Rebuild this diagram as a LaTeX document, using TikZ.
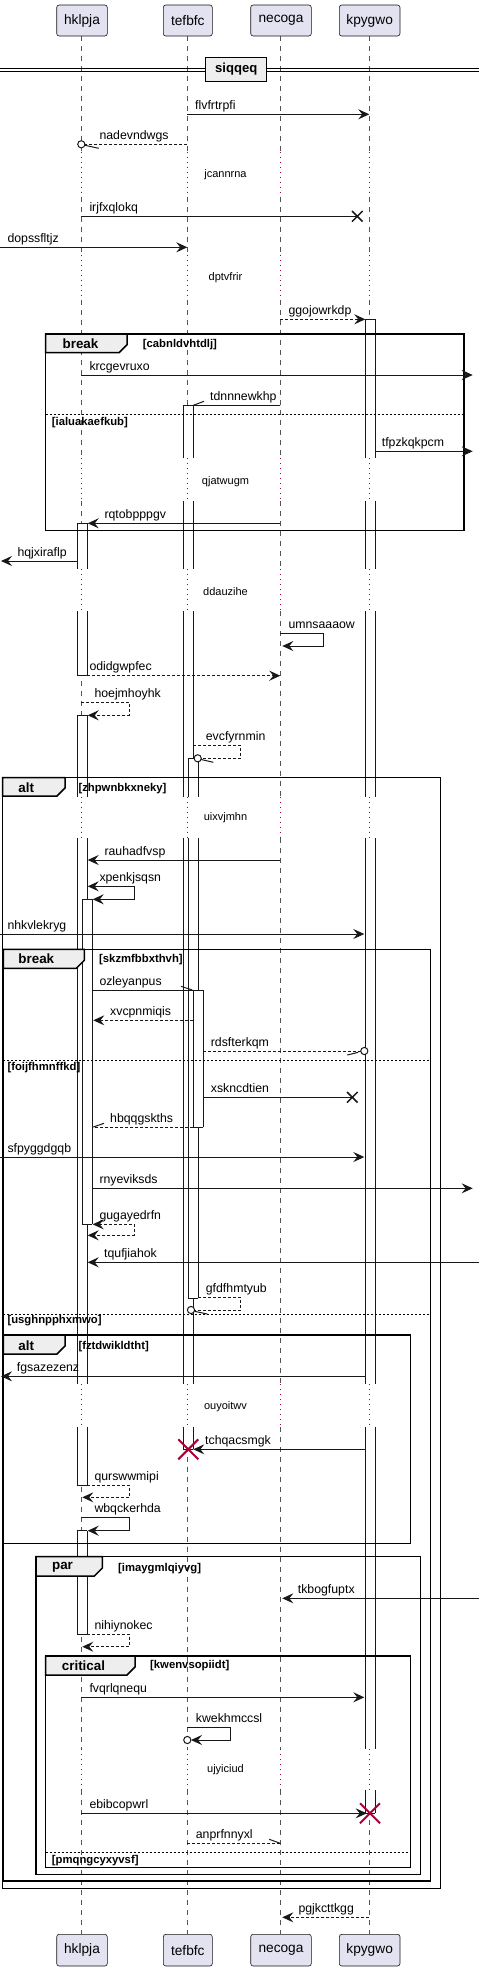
\documentclass[tikz,border=0pt]{standalone}
\usepackage{fontspec}
\setmainfont{Liberation Sans}
\usetikzlibrary{arrows.meta}
\definecolor{partfill}{HTML}{E2E2F0}
\definecolor{ink}{HTML}{181818}
\definecolor{lifegrey}{HTML}{555555}
\definecolor{delayred}{HTML}{A80036}
\definecolor{tabfill}{HTML}{EEEEEE}
\tikzset{
  partbox/.style={draw=ink, fill=partfill, rounded corners=2.5pt, line width=0.6pt, font=\fontsize{13.7}{16}\selectfont, inner sep=0pt},
  lifeline/.style={draw=lifegrey, line width=0.7pt, dash pattern=on 5pt off 5pt},
  delayline/.style={draw=delayred, line width=1pt, dash pattern=on 1pt off 4pt},
  actside/.style={draw=ink, line width=1pt},
  grpframe/.style={draw=black, line width=1.5pt},
  grptab/.style={draw=black, line width=1.5pt, fill=tabfill},
  elseline/.style={draw=black, line width=0.8pt, dash pattern=on 2pt off 2pt},
  msgP/.style={draw=ink, line width=1pt},
  msgPD/.style={msgP, dash pattern=on 3pt off 2pt},
  myhead/.style={-{Stealth[length=11pt,width=10pt,inset=4pt]}},
  bihead/.style={{Stealth[length=11pt,width=10pt,inset=4pt]}-{Stealth[length=11pt,width=10pt,inset=4pt]}},
  msgA/.style={msgP, myhead},
  msgAD/.style={msgPD, myhead},
  msgB/.style={msgP, bihead},
  msgBD/.style={msgPD, bihead},
  lbl/.style={anchor=base west, font=\fontsize{12.3}{14}\selectfont, inner sep=0pt},
  dlbl/.style={font=\fontsize{11}{13}\selectfont, inner sep=0pt},
  tabtxt/.style={font=\bfseries\fontsize{13.4}{15}\selectfont, inner sep=0pt},
  condtxt/.style={anchor=west, font=\bfseries\fontsize{11.3}{13}\selectfont, inner sep=0pt},
  redx/.style={draw=delayred, line width=2pt},
  blackx/.style={draw=ink, line width=1.5pt},
  opencirc/.style={draw=ink, line width=1pt, fill=white},
}
% horizontal message: name, style, x1, x2, y, label x, text
\newcommand\hmsg[7]{%
  \coordinate (#1a) at (#3,#5);
  \coordinate (#1b) at (#4,#5);
  \draw[#2] (#1a) -- (#1b);
  \node[lbl] (#1t) at (#6,#5-5) {#7};
}
% self message: name, style, xstart, xright, ytop, ybot, xend, label x, text
\newcommand\smsg[9]{%
  \coordinate (#1a) at (#3,#5);
  \coordinate (#1c) at (#4,#5);
  \coordinate (#1d) at (#4,#6);
  \coordinate (#1b) at (#7,#6);
  \draw[#2] (#1a) -- (#1c) -- (#1d) -- (#1b);
  \node[lbl] (#1t) at (#8,#5-5) {#9};
}
\newcommand\actseg[4]{%
  \fill[white] (#1,#3) rectangle (#2,#4);
  \draw[actside] (#1,#3) -- (#1,#4) (#2,#3) -- (#2,#4);
}
\newcommand\acthl[3]{\draw[actside] (#1,#3) -- (#2,#3);}
\newcommand\redcross[3]{\draw[redx] (#1-#3,#2-#3) -- (#1+#3,#2+#3) (#1-#3,#2+#3) -- (#1+#3,#2-#3);}
\newcommand\blackcross[3]{\draw[blackx] (#1-#3,#2-#3) -- (#1+#3,#2+#3) (#1-#3,#2+#3) -- (#1+#3,#2-#3);}
% group tab: xl, ytop, xr, ybot
\newcommand\gtab[4]{\draw[grptab] (#1,#2) -- (#3,#2) -- (#3,#4-8) -- (#3-8,#4) -- (#1,#4) -- cycle;}

\begin{document}
\begin{tikzpicture}[x=1pt, y=-1pt]
\useasboundingbox (0,0) rectangle (479,1971);
\fill[white] (0,0) rectangle (479,1971);

% lifelines
\foreach \lx in {81.3,187.3,280.3,369.3} {
  \foreach \ya/\yb in {36/151.7, 196.7/254.8, 299.8/458.3, 501/569, 611/796.7, 838.3/1384, 1426.7/1749, 1790/1934.3}
    {\draw[lifeline] (\lx,\ya) -- (\lx,\yb);}
  \foreach \ya/\yb in {151.7/196.7, 254.8/299.8, 458.3/501, 569/611, 796.7/838.3, 1384/1426.7, 1749/1790}
    {\draw[delayline] (\lx,\ya) -- (\lx,\yb);}
}

% participants
\node[partbox, minimum width=50.6pt, minimum height=31pt] (hklpja) at (82,20.5) {hklpja};
\node[partbox, minimum width=49pt, minimum height=31pt] (tefbfc) at (187.8,20.5) {tefbfc};
\node[partbox, minimum width=60.6pt, minimum height=31pt] (necoga) at (281,20.5) {necoga};
\node[partbox, minimum width=60.7pt, minimum height=31pt] (kpygwo) at (369.65,20.5) {kpygwo};
\node[partbox, minimum width=50.6pt, minimum height=31.7pt] (hklpjaB) at (82,1950.15) {hklpja};
\node[partbox, minimum width=49pt, minimum height=31.7pt] (tefbfcB) at (187.8,1950.15) {tefbfc};
\node[partbox, minimum width=60.6pt, minimum height=31.7pt] (necogaB) at (281,1950.15) {necoga};
\node[partbox, minimum width=60.7pt, minimum height=31.7pt] (kpygwoB) at (369.65,1950.15) {kpygwo};

% activations: hklpja
\actseg{77.3}{87.3}{523.3}{569}\actseg{77.3}{87.3}{611}{675.7}
\acthl{77.3}{87.3}{523.3}\acthl{77.3}{87.3}{675.7}
\actseg{77.3}{87.3}{715.3}{796.7}\actseg{77.3}{87.3}{838.3}{1384}\actseg{77.3}{87.3}{1426.7}{1485}
\acthl{77.3}{87.3}{715.3}\acthl{77.3}{87.3}{1485}
\actseg{82.3}{92.3}{899.3}{1224.3}
\acthl{82.3}{92.3}{899.3}\acthl{82.3}{92.3}{1224.3}
\actseg{77.3}{87.3}{1530.7}{1634.3}
\acthl{77.3}{87.3}{1530.7}\acthl{77.3}{87.3}{1634.3}
% activations: tefbfc
\actseg{183.3}{193.3}{405.3}{458.3}\actseg{183.3}{193.3}{501}{569}\actseg{183.3}{193.3}{611}{796.7}
\actseg{183.3}{193.3}{838.3}{1384}\actseg{183.3}{193.3}{1426.7}{1449.3}
\acthl{183.3}{193.3}{405.3}\acthl{183.3}{193.3}{1449.3}
\actseg{188.3}{198.3}{758.3}{796.7}\actseg{188.3}{198.3}{838.3}{1298.3}
\acthl{188.3}{198.3}{758.3}\acthl{188.3}{198.3}{1298.3}
\actseg{193.3}{203.3}{990}{1127}
\acthl{193.3}{203.3}{990}\acthl{193.3}{203.3}{1127}
% activations: kpygwo
\actseg{365.3}{375.3}{319.3}{458.3}\actseg{365.3}{375.3}{501}{569}\actseg{365.3}{375.3}{611}{796.7}
\actseg{365.3}{375.3}{838.3}{1384}\actseg{365.3}{375.3}{1426.7}{1749}\actseg{365.3}{375.3}{1790}{1813.3}
\acthl{365.3}{375.3}{319.3}\acthl{365.3}{375.3}{1813.3}

% divider
\draw[draw=black, line width=1pt] (0,68.5) -- (479,68.5) (0,71.5) -- (479,71.5);
\node[draw=black, line width=1.5pt, fill=tabfill, minimum width=61pt, minimum height=24.4pt, inner sep=0pt, font=\bfseries\fontsize{13.1}{15}\selectfont] (div) at (236.2,69.5) {siqqeq};

% group frames
% F1 break
\draw[grpframe] (45.7,334) rectangle (464,530.7);
\gtab{45.7}{334}{127}{352.7}
\node[tabtxt] (f1t) at (80.5,343.5) {break};
\node[condtxt] (f1c) at (142.7,344.3) {[cabnldvhtdlj]};
\draw[elseline] (45.7,414.3) -- (464,414.3);
\node[condtxt] (f1e) at (51.7,422.7) {[ialuakaefkub]};
% F2 alt
\draw[grpframe] (2.7,777.7) rectangle (440.7,1888.3);
\gtab{2.7}{777.7}{65}{796}
\node[tabtxt] (f2t) at (26.2,787.5) {alt};
\node[condtxt] (f2c) at (78.3,788.3) {[zhpwnbkxneky]};
% F3 break
\draw[grpframe] (3.3,949.3) rectangle (430.7,1881);
\gtab{3.3}{949.3}{84.3}{968.3}
\node[tabtxt] (f3t) at (36.3,959) {break};
\node[condtxt] (f3c) at (99,959.7) {[skzmfbbxthvh]};
\draw[elseline] (3.3,1060.3) -- (430.7,1060.3);
\node[condtxt] (f3e) at (7.3,1067.3) {[foijfhmnffkd]};
\draw[elseline] (3.3,1314) -- (430.7,1314);
\node[condtxt] (f3f) at (7.3,1321) {[usghnpphxmwo]};
% F4 alt
\draw[grpframe] (3.3,1335) rectangle (410.7,1543.3);
\gtab{3.3}{1335}{65}{1354}
\node[tabtxt] (f4t) at (26.2,1345.5) {alt};
\node[condtxt] (f4c) at (78.3,1346.7) {[fztdwikldtht]};
% F5 par
\draw[grpframe] (36,1556.7) rectangle (420.7,1874.3);
\gtab{36}{1556.7}{102.3}{1576}
\node[tabtxt] (f5t) at (62.5,1567.5) {par};
\node[condtxt] (f5c) at (118,1568.3) {[imaygmlqiyvg]};
% F6 critical
\draw[grpframe] (45.7,1656) rectangle (410.7,1867.3);
\gtab{45.7}{1656}{135}{1675}
\node[tabtxt] (f6t) at (83.5,1665.5) {critical};
\node[condtxt] (f6c) at (150,1666) {[kwenvsopiidt]};
\draw[elseline] (45.7,1852.3) -- (410.7,1852.3);
\node[condtxt] (f6e) at (51.7,1860.7) {[pmqngcyxyvsf]};

% delay texts
\node[dlbl] (d1) at (225.5,174.3) {jcannrna};
\node[dlbl] (d2) at (225.5,277.3) {dptvfrir};
\node[dlbl] (d3) at (225.5,481.7) {qjatwugm};
\node[dlbl] (d4) at (225.5,591.3) {ddauzihe};
\node[dlbl] (d5) at (225.5,818) {uixvjmhn};
\node[dlbl] (d6) at (225.5,1406.3) {ouyoitwv};
\node[dlbl] (d7) at (225.5,1770) {ujyiciud};

% messages
\hmsg{m1}{msgA}{187.3}{369.3}{114.3}{195}{flvfrtrpfi}
\hmsg{m2}{msgPD}{187.3}{85}{144.3}{99.3}{nadevndwgs}
\draw[opencirc] (81.3,144.3) circle[radius=3.6pt];
\draw[msgP] (85,145.3) -- (98.7,148.3);
\hmsg{m3}{msgP}{81.3}{357.3}{216.3}{89.3}{irjfxqlokq}
\blackcross{357.3}{216.3}{5.3}
\hmsg{m4}{msgA}{0}{187.3}{247.3}{7.3}{dopssfltjz}
\hmsg{m5}{msgAD}{280.3}{365.3}{319.3}{288.3}{ggojowrkdp}
\hmsg{m6}{msgA}{81.3}{472.7}{375}{89.3}{krcgevruxo}
\hmsg{m7}{msgP}{280.3}{193.3}{405.3}{210}{tdnnnewkhp}
\draw[msgP] (193.3,405.3) -- (204,401.3);
\hmsg{m8}{msgA}{375.3}{472.7}{451.3}{381.7}{tfpzkqkpcm}
\hmsg{m9}{msgA}{280.3}{87.7}{523.3}{104.3}{rqtobpppgv}
\hmsg{m10}{msgA}{77.3}{1}{561}{17.3}{hqjxiraflp}
\smsg{m11}{msgA}{280.3}{323.3}{633}{646}{282.3}{288.3}{umnsaaaow}
\hmsg{m12}{msgAD}{87.3}{280.3}{675.7}{89.3}{odidgwpfec}
\smsg{m13}{msgAD}{81.3}{129.3}{702.3}{715.3}{87.7}{94.3}{hoejmhoyhk}
\smsg{m14}{msgPD}{193.3}{240.7}{745.3}{758.3}{201.3}{205.7}{evcfyrnmin}
\draw[opencirc] (197.7,758.3) circle[radius=3.6pt];
\draw[msgP] (201.2,759.5) -- (213.3,762.3);
\hmsg{m15}{msgA}{280.3}{87.7}{860}{104.3}{rauhadfvsp}
\smsg{m16}{msgB}{87.7}{134.3}{886.3}{899.3}{92.7}{99.3}{xpenkjsqsn}
\hmsg{m17}{msgA}{0}{364.3}{934}{7.3}{nhkvlekryg}
\hmsg{m18}{msgP}{92.3}{193.3}{990}{99.3}{ozleyanpus}
\draw[msgP] (192.3,990) -- (181,986.3);
\hmsg{m19}{msgAD}{193.3}{93.3}{1020.3}{110}{xvcpnmiqis}
\hmsg{m20}{msgPD}{203.3}{360.7}{1051}{210.7}{rdsfterkqm}
\draw[opencirc] (364.3,1051) circle[radius=3.6pt];
\draw[msgP] (358.3,1052.3) -- (347.3,1055);
\hmsg{m21}{msgP}{203.3}{352.3}{1097.3}{210.7}{xskncdtien}
\blackcross{352.3}{1097.3}{5.3}
\hmsg{m22}{msgPD}{193.3}{93.3}{1127}{110}{hbqqgskths}
\draw[msgP] (93.3,1127) -- (104,1123.3);
\hmsg{m23}{msgA}{0}{364.3}{1157}{7.3}{sfpyggdgqb}
\hmsg{m24}{msgA}{92.3}{472.7}{1188.3}{99.3}{rnyeviksds}
\smsg{m25}{msgBD}{92.7}{134.3}{1224.3}{1235.3}{87.7}{99.3}{gugayedrfn}
\hmsg{m26}{msgA}{479}{87.7}{1262.3}{104}{tqufjiahok}
\smsg{m27}{msgPD}{198.3}{240.7}{1297.3}{1310}{194.6}{205.7}{gfdfhmtyub}
\draw[opencirc] (191,1310) circle[radius=3.6pt];
\draw[msgP] (194.5,1311.3) -- (207.3,1314);
\hmsg{m28}{msgA}{365.3}{1}{1376.3}{16.7}{fgsazezenz}
\hmsg{m29}{msgA}{365.3}{193.3}{1449.3}{205}{tchqacsmgk}
\redcross{188.3}{1449.3}{10}
\smsg{m30}{msgAD}{87.3}{129.3}{1485}{1497.3}{82.3}{94.3}{qurswwmipi}
\smsg{m31}{msgA}{81.3}{129.3}{1517.3}{1530.7}{87.7}{94.3}{wbqckerhda}
\hmsg{m32}{msgA}{479}{282.3}{1598.3}{297.7}{tkbogfuptx}
\smsg{m33}{msgAD}{87.3}{129.3}{1634.3}{1646.7}{82.3}{94.3}{nihiynokec}
\hmsg{m34}{msgA}{81.3}{364.3}{1697.3}{89.3}{fvqrlqnequ}
\smsg{m35}{msgA}{187.3}{230.3}{1727.3}{1740}{191}{195.7}{kwekhmccsl}
\draw[opencirc] (187.3,1740) circle[radius=3.6pt];
\hmsg{m36}{msgA}{81.3}{366.7}{1813.3}{89.3}{ebibcopwrl}
\redcross{370}{1813.3}{10}
\hmsg{m37}{msgPD}{187.3}{280.3}{1843.3}{195.7}{anprfnnyxl}
\draw[msgP] (280.3,1843.3) -- (269.3,1839.3);
\hmsg{m38}{msgAD}{369.3}{282.3}{1917.3}{298.3}{pgjkcttkgg}
\end{tikzpicture}
\end{document}
